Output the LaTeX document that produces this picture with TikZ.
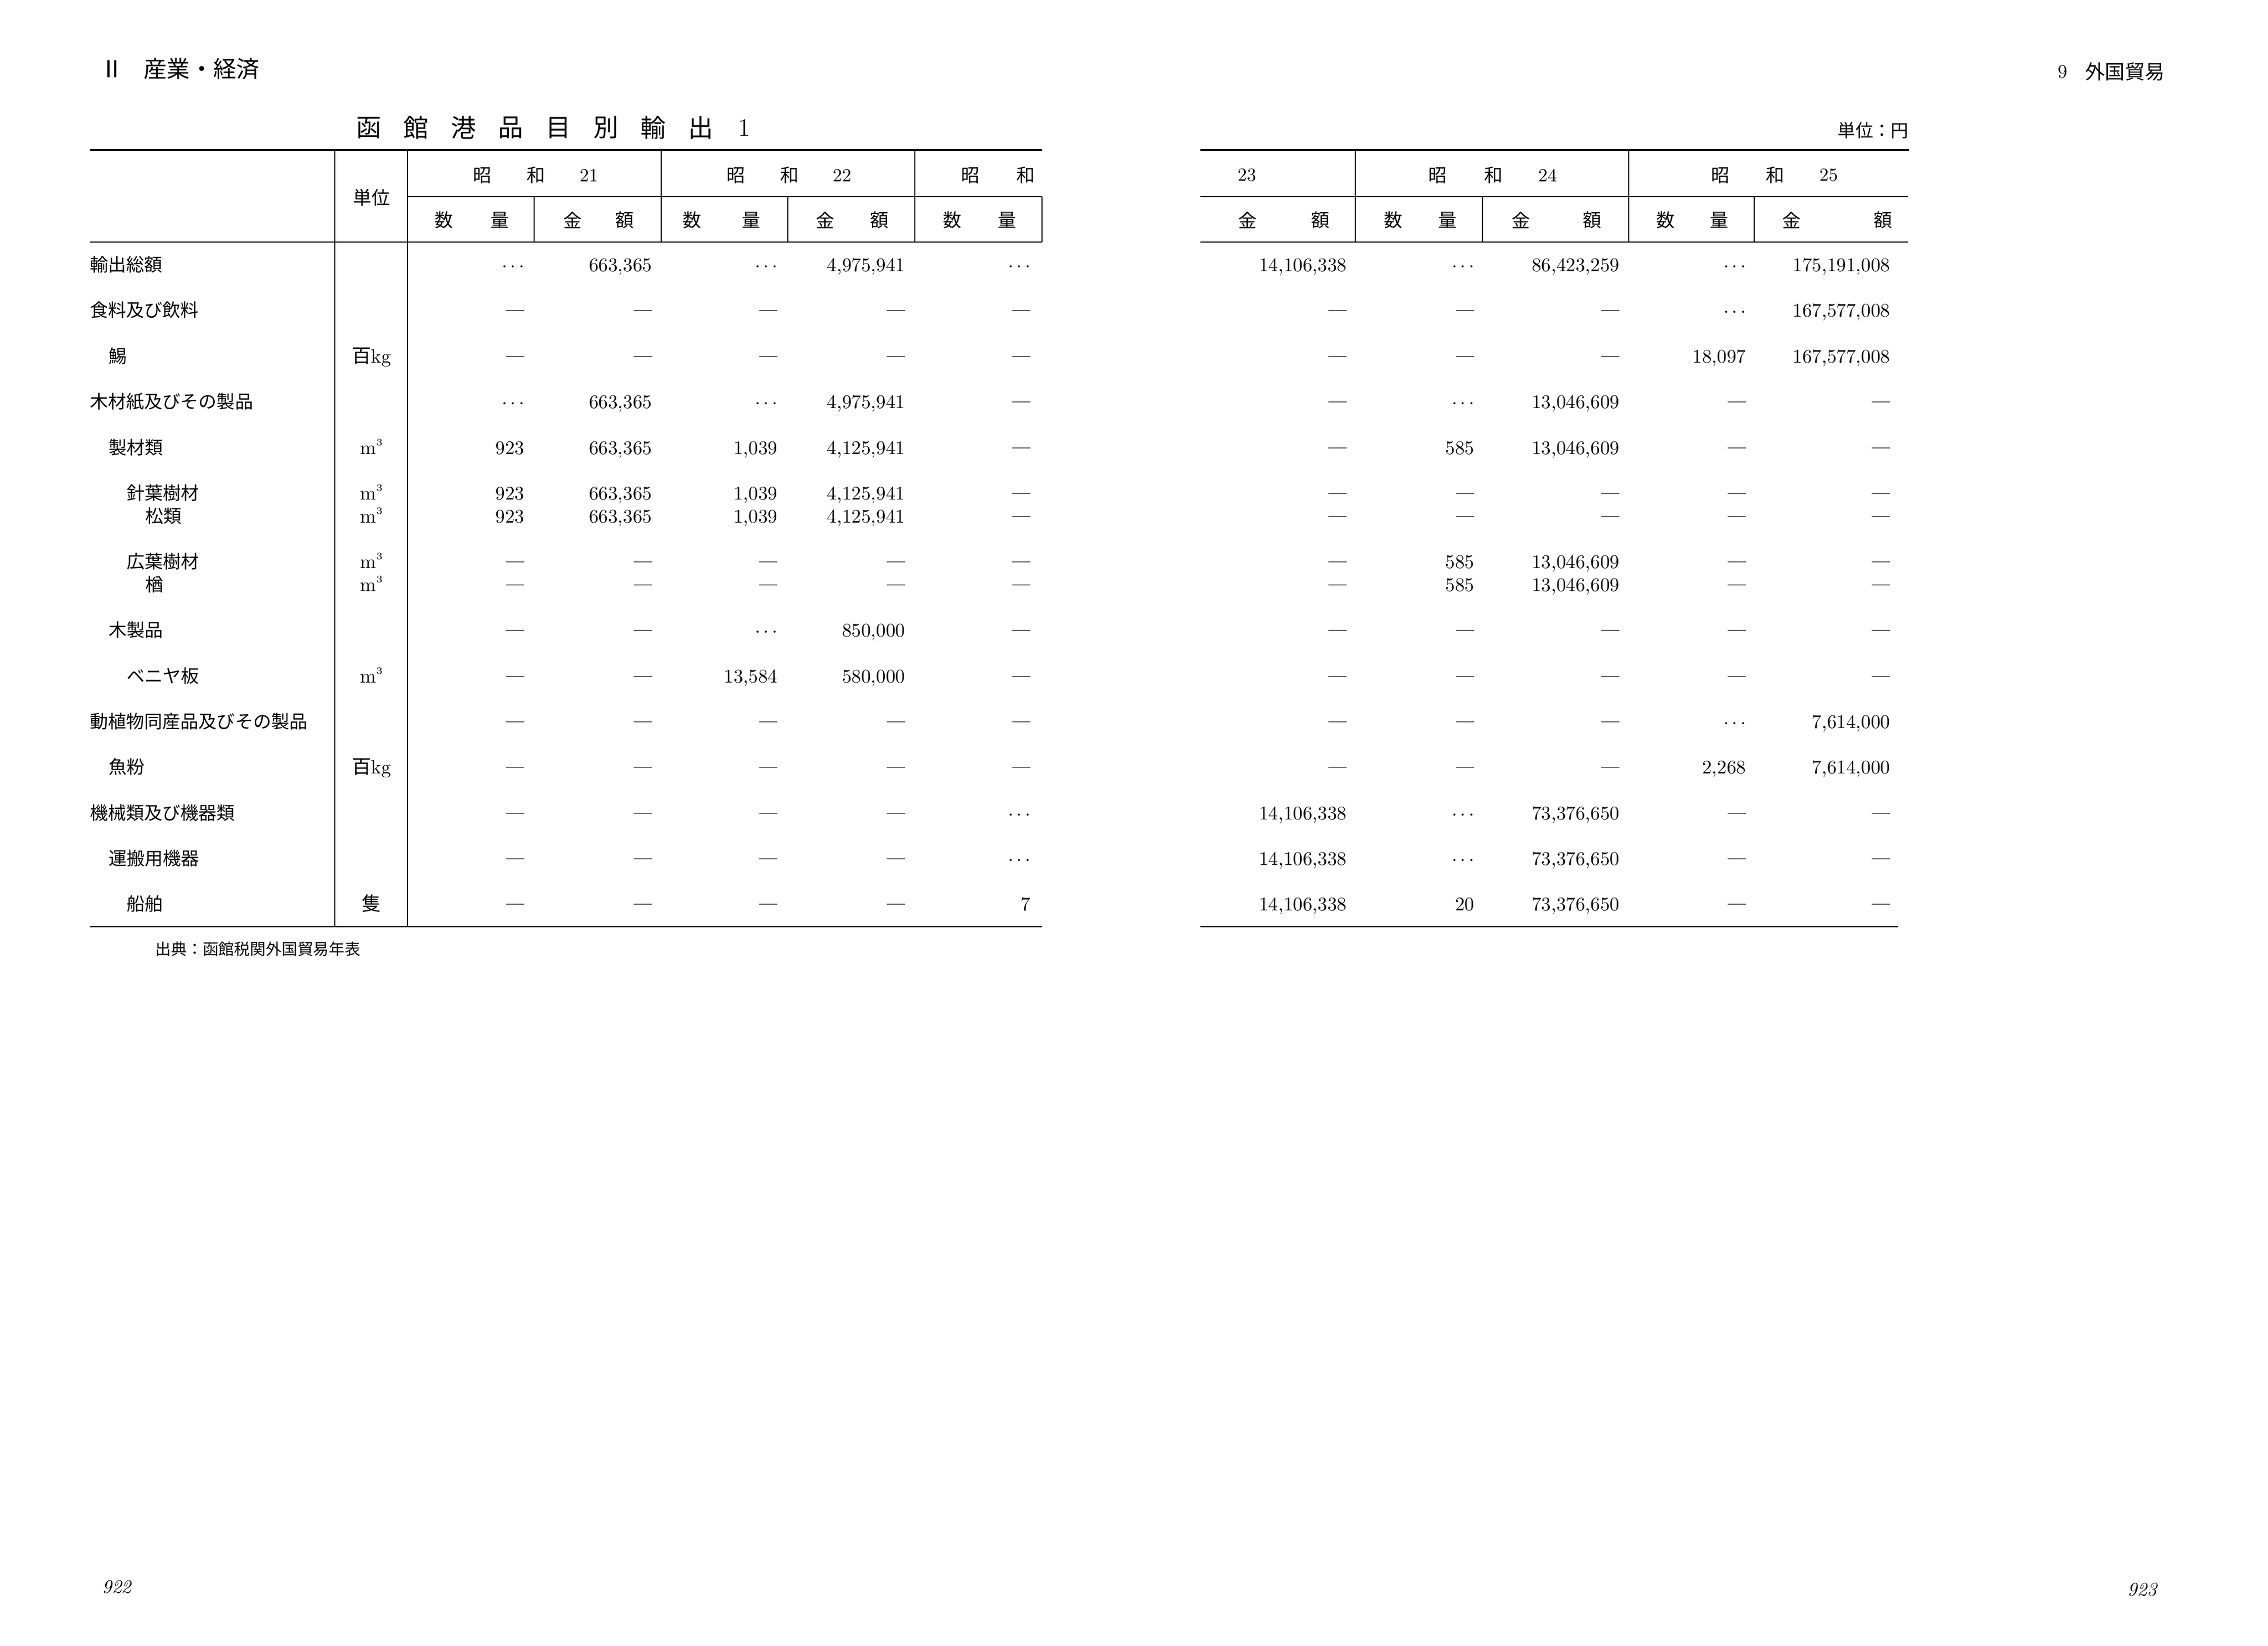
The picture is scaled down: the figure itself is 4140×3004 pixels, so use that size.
\documentclass[tikz,border=0pt]{standalone}
\usepackage{fontspec}
\usepackage{tikz}
\newfontfamily\jp{Noto Sans CJK JP}
\DeclareRobustCommand{\emp}{\raisebox{0.1em}{\fontsize{7.4pt}{9pt}\selectfont\bfseries\textemdash}}
\DeclareRobustCommand{\unk}{$\cdots$}
\newcommand{\colx}{{958,1191,1420,1653,1882,2459,2692,2957,3188,3451}}
\newcommand{\datarow}[3]{%
  \foreach \val [count=\n] in {#3} {
    \pgfmathsetmacro\cx{\colx[\n-1]}
    \node[num] (#1-\n) at (\cx,#2+12) {\val};
  }}

\begin{document}
\begin{tikzpicture}[
    x=0.1mm, y=-0.1mm,
    lab/.style={anchor=base west, inner sep=0pt, font=\jp\fontsize{9.4pt}{11pt}\selectfont},
    num/.style={anchor=base east, inner sep=0pt, font=\fontsize{10pt}{12pt}\selectfont},
    unitlab/.style={anchor=base, inner sep=0pt, font=\fontsize{10pt}{12pt}\selectfont},
    head/.style={inner sep=0pt, font=\jp\fontsize{9.6pt}{11pt}\selectfont},
    toprule/.style={line width=1.3pt},
    headrule/.style={line width=0.8pt},
    vrule/.style={line width=0.55pt}
]
    \useasboundingbox (0,0) rectangle (4140,3004);
    \fill[white] (0,0) rectangle (4140,3004);

    % page heads
    \node[inner sep=0pt, font=\jp\fontsize{12pt}{14pt}\selectfont] (part) at (205,126) {Ⅱ};
    \node[anchor=west, inner sep=0pt, font=\jp\fontsize{12pt}{14pt}\selectfont] (parttitle) at (262,126) {産業・経済};
    \node[inner sep=0pt, font=\fontsize{10pt}{12pt}\selectfont] (secnum) at (3765,131) {9};
    \node[anchor=west, inner sep=0pt, font=\jp\fontsize{10.3pt}{12pt}\selectfont] (sectitle) at (3806,131) {外国貿易};

    % title
    \foreach \ch [count=\i] in {函,館,港,品,目,別,輸,出}
        \node[inner sep=0pt, font=\jp\fontsize{13pt}{15pt}\selectfont] (title\i) at (673+86.6*\i-86.6,233) {\ch};
    \node[inner sep=0pt, font=\fontsize{13pt}{15pt}\selectfont] (titlenum) at (1359,233) {1};
    \node[anchor=east, inner sep=0pt, font=\jp\fontsize{9.2pt}{11pt}\selectfont] (unitnote) at (3485,238) {単位：円};

    % rules, left half
    \draw[toprule] (164,274) -- (1902,274);
    \draw[headrule] (744,359) -- (1902,359);
    \draw[headrule] (164,442) -- (1902,442);
    \draw[headrule] (164,1692) -- (1902,1692);
    \foreach \x in {611,744} \draw[vrule] (\x,274) -- (\x,1692);
    \foreach \x in {1207,1670} \draw[vrule] (\x,274) -- (\x,442);
    \foreach \x in {975,1438,1902} \draw[vrule] (\x,359) -- (\x,442);

    % rules, right half
    \draw[toprule] (2191,274) -- (3485,274);
    \draw[headrule] (2191,359) -- (3483,359);
    \draw[headrule] (2191,442) -- (3483,442);
    \draw[headrule] (2191,1692) -- (3465,1692);
    \foreach \x in {2474,2973} \draw[vrule] (\x,274) -- (\x,442);
    \foreach \x in {2706,3202} \draw[vrule] (\x,359) -- (\x,442);

    % column heads
    \node[head] (unithead) at (678,361) {単位};
    \foreach \x/\lab [count=\i] in {880/昭,978/和,1075/{\rmfamily 21},1343/昭,1441/和,1537/{\rmfamily 22},
        1771/昭,1872/和,2276/{\rmfamily 23},2624/昭,2726/和,2825/{\rmfamily 24},3140/昭,3240/和,3338/{\rmfamily 25}}
        \node[head] (year\i) at (\x,320) {\lab};
    \foreach \x/\lab [count=\i] in {810/数,912/量,1045/金,1140/額,1263/数,1371/量,1506/金,1605/額,1738/数,1838/量,
        2277/金,2410/額,2543/数,2642/量,2776/金,2906/額,3040/数,3138/量,3270/金,3437/額}
        \node[head] (sub\i) at (\x,402) {\lab};

    % item names
    \foreach \y/\ind/\lab [count=\i] in {483/0/輸出総額, 566/0/食料及び飲料, 650/1/鯣, 733/0/木材紙及びその製品,
        817/1/製材類, 900/2/針葉樹材, 942/3/松類, 1025/2/広葉樹材, 1067/3/楢, 1150/1/木製品, 1234/2/ベニヤ板,
        1317/0/動植物同産品及びその製品, 1400/1/魚粉, 1484/0/機械類及び機器類, 1567/1/運搬用機器, 1650/2/船舶}
        \node[lab] (item\i) at (164+33.5*\ind,\y+12) {\lab};

    % units
    \foreach \y/\lab [count=\i] in {650/{{\jp 百}kg}, 817/{m\raisebox{0.45em}{\fontsize{5pt}{5pt}\selectfont 3}},
        900/{m\raisebox{0.45em}{\fontsize{5pt}{5pt}\selectfont 3}}, 942/{m\raisebox{0.45em}{\fontsize{5pt}{5pt}\selectfont 3}},
        1025/{m\raisebox{0.45em}{\fontsize{5pt}{5pt}\selectfont 3}}, 1067/{m\raisebox{0.45em}{\fontsize{5pt}{5pt}\selectfont 3}},
        1234/{m\raisebox{0.45em}{\fontsize{5pt}{5pt}\selectfont 3}}, 1400/{{\jp 百}kg}, 1650/{{\jp 隻}}}
        \node[unitlab] (unit\i) at (678,\y+12) {\lab};

    % figures
    \datarow{total}{483}{\unk,{663,365},\unk,{4,975,941},\unk,{14,106,338},\unk,{86,423,259},\unk,{175,191,008}}
    \datarow{food}{566}{\emp,\emp,\emp,\emp,\emp,\emp,\emp,\emp,\unk,{167,577,008}}
    \datarow{squid}{650}{\emp,\emp,\emp,\emp,\emp,\emp,\emp,\emp,{18,097},{167,577,008}}
    \datarow{wood}{733}{\unk,{663,365},\unk,{4,975,941},\emp,\emp,\unk,{13,046,609},\emp,\emp}
    \datarow{lumber}{817}{923,{663,365},{1,039},{4,125,941},\emp,\emp,585,{13,046,609},\emp,\emp}
    \datarow{conifer}{900}{923,{663,365},{1,039},{4,125,941},\emp,\emp,\emp,\emp,\emp,\emp}
    \datarow{pine}{942}{923,{663,365},{1,039},{4,125,941},\emp,\emp,\emp,\emp,\emp,\emp}
    \datarow{broadleaf}{1025}{\emp,\emp,\emp,\emp,\emp,\emp,585,{13,046,609},\emp,\emp}
    \datarow{oak}{1067}{\emp,\emp,\emp,\emp,\emp,\emp,585,{13,046,609},\emp,\emp}
    \datarow{woodprod}{1150}{\emp,\emp,\unk,{850,000},\emp,\emp,\emp,\emp,\emp,\emp}
    \datarow{veneer}{1234}{\emp,\emp,{13,584},{580,000},\emp,\emp,\emp,\emp,\emp,\emp}
    \datarow{animal}{1317}{\emp,\emp,\emp,\emp,\emp,\emp,\emp,\emp,\unk,{7,614,000}}
    \datarow{fishmeal}{1400}{\emp,\emp,\emp,\emp,\emp,\emp,\emp,\emp,{2,268},{7,614,000}}
    \datarow{machine}{1484}{\emp,\emp,\emp,\emp,\unk,{14,106,338},\unk,{73,376,650},\emp,\emp}
    \datarow{transport}{1567}{\emp,\emp,\emp,\emp,\unk,{14,106,338},\unk,{73,376,650},\emp,\emp}
    \datarow{ship}{1650}{\emp,\emp,\emp,\emp,7,{14,106,338},20,{73,376,650},\emp,\emp}

    % source and folios
    \node[anchor=west, inner sep=0pt, font=\jp\fontsize{8.2pt}{10pt}\selectfont] (source) at (283,1733) {出典：函館税関外国貿易年表};
    \node[inner sep=0pt, font=\itshape\fontsize{10pt}{12pt}\selectfont] (pageleft) at (213,2897) {922};
    \node[inner sep=0pt, font=\itshape\fontsize{10pt}{12pt}\selectfont] (pageright) at (3910,2902) {923};
\end{tikzpicture}
\end{document}
